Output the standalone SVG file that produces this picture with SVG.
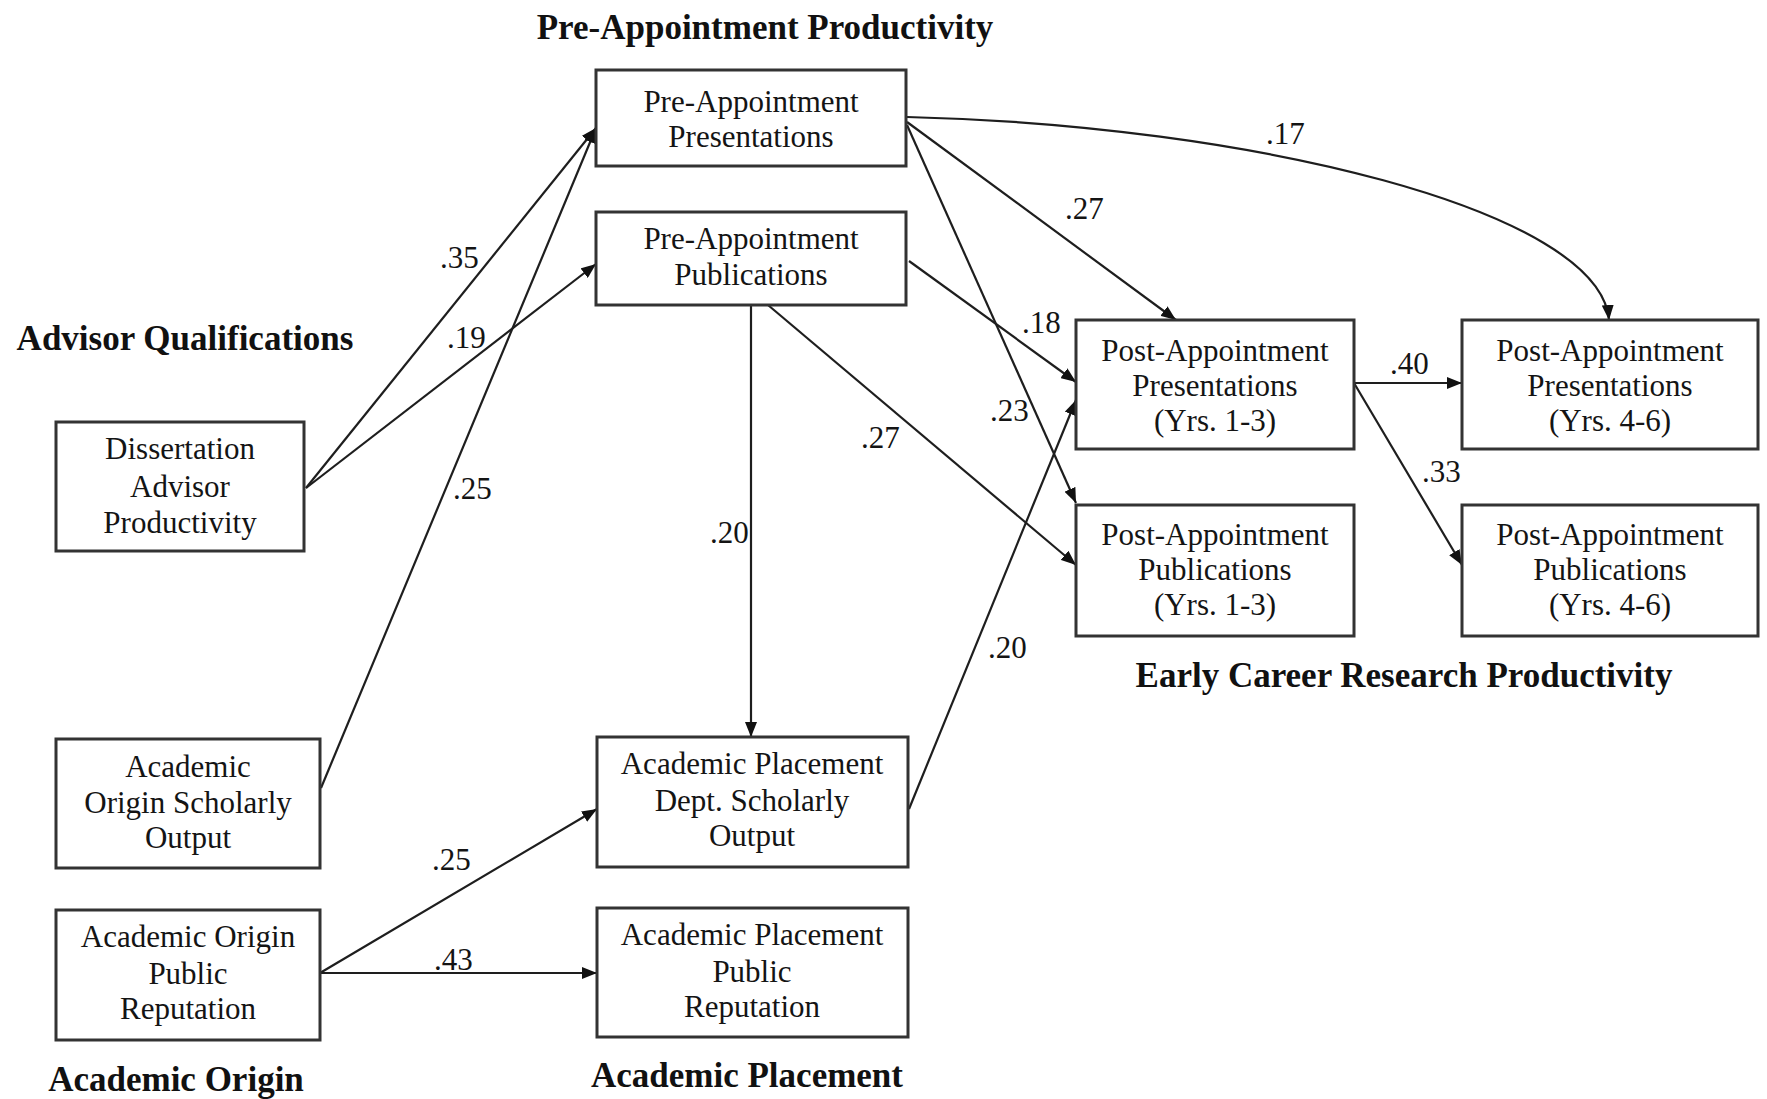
<svg xmlns="http://www.w3.org/2000/svg" width="1767" height="1099" viewBox="0 0 1767 1099">
<style>
  .box { fill: #ffffff; stroke: #333333; stroke-width: 3; }
  .t { font-family: "Liberation Serif", "Times New Roman", serif; font-size: 31px; fill: #141414; text-anchor: middle; }
  .h { font-family: "Liberation Serif", "Times New Roman", serif; font-size: 35px; font-weight: bold; fill: #111111; text-anchor: middle; }
  .lbl { font-family: "Liberation Serif", "Times New Roman", serif; font-size: 31px; fill: #141414; }
  .edge { fill: none; stroke: #1e1e1e; stroke-width: 2.2; marker-end: url(#arrow); }
</style>
<defs>
  <marker id="arrow" markerUnits="userSpaceOnUse" markerWidth="16" markerHeight="12" refX="15" refY="6" orient="auto">
    <path d="M0,0 L15,6 L0,12 z" fill="#111111"/>
  </marker>
</defs>
<rect x="0" y="0" width="1767" height="1099" fill="#ffffff"/>

<g id="headings">
  <text class="h" x="765" y="39">Pre-Appointment Productivity</text>
  <text class="h" x="185" y="350">Advisor Qualifications</text>
  <text class="h" x="1404" y="687">Early Career Research Productivity</text>
  <text class="h" x="176" y="1091">Academic Origin</text>
  <text class="h" x="747" y="1087">Academic Placement</text>
</g>

<g id="connectors">
  <line class="edge" x1="306" y1="488" x2="596" y2="128"/>
  <line class="edge" x1="306" y1="488" x2="596" y2="264"/>
  <line class="edge" x1="321" y1="788" x2="596" y2="128"/>
  <line class="edge" x1="320" y1="973" x2="597" y2="809"/>
  <line class="edge" x1="320" y1="973" x2="597" y2="973"/>
  <line class="edge" x1="751" y1="305" x2="751" y2="737"/>
  <line class="edge" x1="909" y1="809" x2="1076" y2="400"/>
  <line class="edge" x1="909" y1="261" x2="1076" y2="382"/>
  <line class="edge" x1="768" y1="305" x2="1076" y2="565"/>
  <line class="edge" x1="907" y1="122" x2="1176" y2="320"/>
  <line class="edge" x1="907" y1="125" x2="1076" y2="503"/>
  <path class="edge" d="M907,117 C1250,125 1600,210 1609,320"/>
  <line class="edge" x1="1354" y1="383" x2="1462" y2="383"/>
  <line class="edge" x1="1354" y1="383" x2="1462" y2="565"/>
</g>

<g id="edge-labels">
  <text class="lbl" x="440" y="268">.35</text>
  <text class="lbl" x="447" y="348">.19</text>
  <text class="lbl" x="453" y="499">.25</text>
  <text class="lbl" x="432" y="870">.25</text>
  <text class="lbl" x="434" y="970">.43</text>
  <text class="lbl" x="710" y="543">.20</text>
  <text class="lbl" x="988" y="658">.20</text>
  <text class="lbl" x="861" y="448">.27</text>
  <text class="lbl" x="990" y="421">.23</text>
  <text class="lbl" x="1022" y="333">.18</text>
  <text class="lbl" x="1065" y="219">.27</text>
  <text class="lbl" x="1266" y="144">.17</text>
  <text class="lbl" x="1390" y="374">.40</text>
  <text class="lbl" x="1422" y="482">.33</text>
</g>

<g id="pre-presentations">
  <rect class="box" x="596" y="70" width="310" height="96"/>
  <text class="t" x="751" y="112">Pre-Appointment</text>
  <text class="t" x="751" y="147">Presentations</text>
</g>
<g id="pre-publications">
  <rect class="box" x="596" y="212" width="310" height="93"/>
  <text class="t" x="751" y="249">Pre-Appointment</text>
  <text class="t" x="751" y="285">Publications</text>
</g>
<g id="dissertation-advisor">
  <rect class="box" x="56" y="422" width="248" height="129"/>
  <text class="t" x="180" y="459">Dissertation</text>
  <text class="t" x="180" y="497">Advisor</text>
  <text class="t" x="180" y="533">Productivity</text>
</g>
<g id="origin-scholarly">
  <rect class="box" x="56" y="739" width="264" height="129"/>
  <text class="t" x="188" y="777">Academic</text>
  <text class="t" x="188" y="813">Origin Scholarly</text>
  <text class="t" x="188" y="848">Output</text>
</g>
<g id="origin-reputation">
  <rect class="box" x="56" y="910" width="264" height="130"/>
  <text class="t" x="188" y="947">Academic Origin</text>
  <text class="t" x="188" y="984">Public</text>
  <text class="t" x="188" y="1019">Reputation</text>
</g>
<g id="placement-scholarly">
  <rect class="box" x="597" y="737" width="311" height="130"/>
  <text class="t" x="752" y="774">Academic Placement</text>
  <text class="t" x="752" y="811">Dept. Scholarly</text>
  <text class="t" x="752" y="846">Output</text>
</g>
<g id="placement-reputation">
  <rect class="box" x="597" y="908" width="311" height="129"/>
  <text class="t" x="752" y="945">Academic Placement</text>
  <text class="t" x="752" y="982">Public</text>
  <text class="t" x="752" y="1017">Reputation</text>
</g>
<g id="post-presentations-1-3">
  <rect class="box" x="1076" y="320" width="278" height="129"/>
  <text class="t" x="1215" y="361">Post-Appointment</text>
  <text class="t" x="1215" y="396">Presentations</text>
  <text class="t" x="1215" y="431">(Yrs. 1-3)</text>
</g>
<g id="post-publications-1-3">
  <rect class="box" x="1076" y="505" width="278" height="131"/>
  <text class="t" x="1215" y="545">Post-Appointment</text>
  <text class="t" x="1215" y="580">Publications</text>
  <text class="t" x="1215" y="615">(Yrs. 1-3)</text>
</g>
<g id="post-presentations-4-6">
  <rect class="box" x="1462" y="320" width="296" height="129"/>
  <text class="t" x="1610" y="361">Post-Appointment</text>
  <text class="t" x="1610" y="396">Presentations</text>
  <text class="t" x="1610" y="431">(Yrs. 4-6)</text>
</g>
<g id="post-publications-4-6">
  <rect class="box" x="1462" y="505" width="296" height="131"/>
  <text class="t" x="1610" y="545">Post-Appointment</text>
  <text class="t" x="1610" y="580">Publications</text>
  <text class="t" x="1610" y="615">(Yrs. 4-6)</text>
</g>
</svg>
